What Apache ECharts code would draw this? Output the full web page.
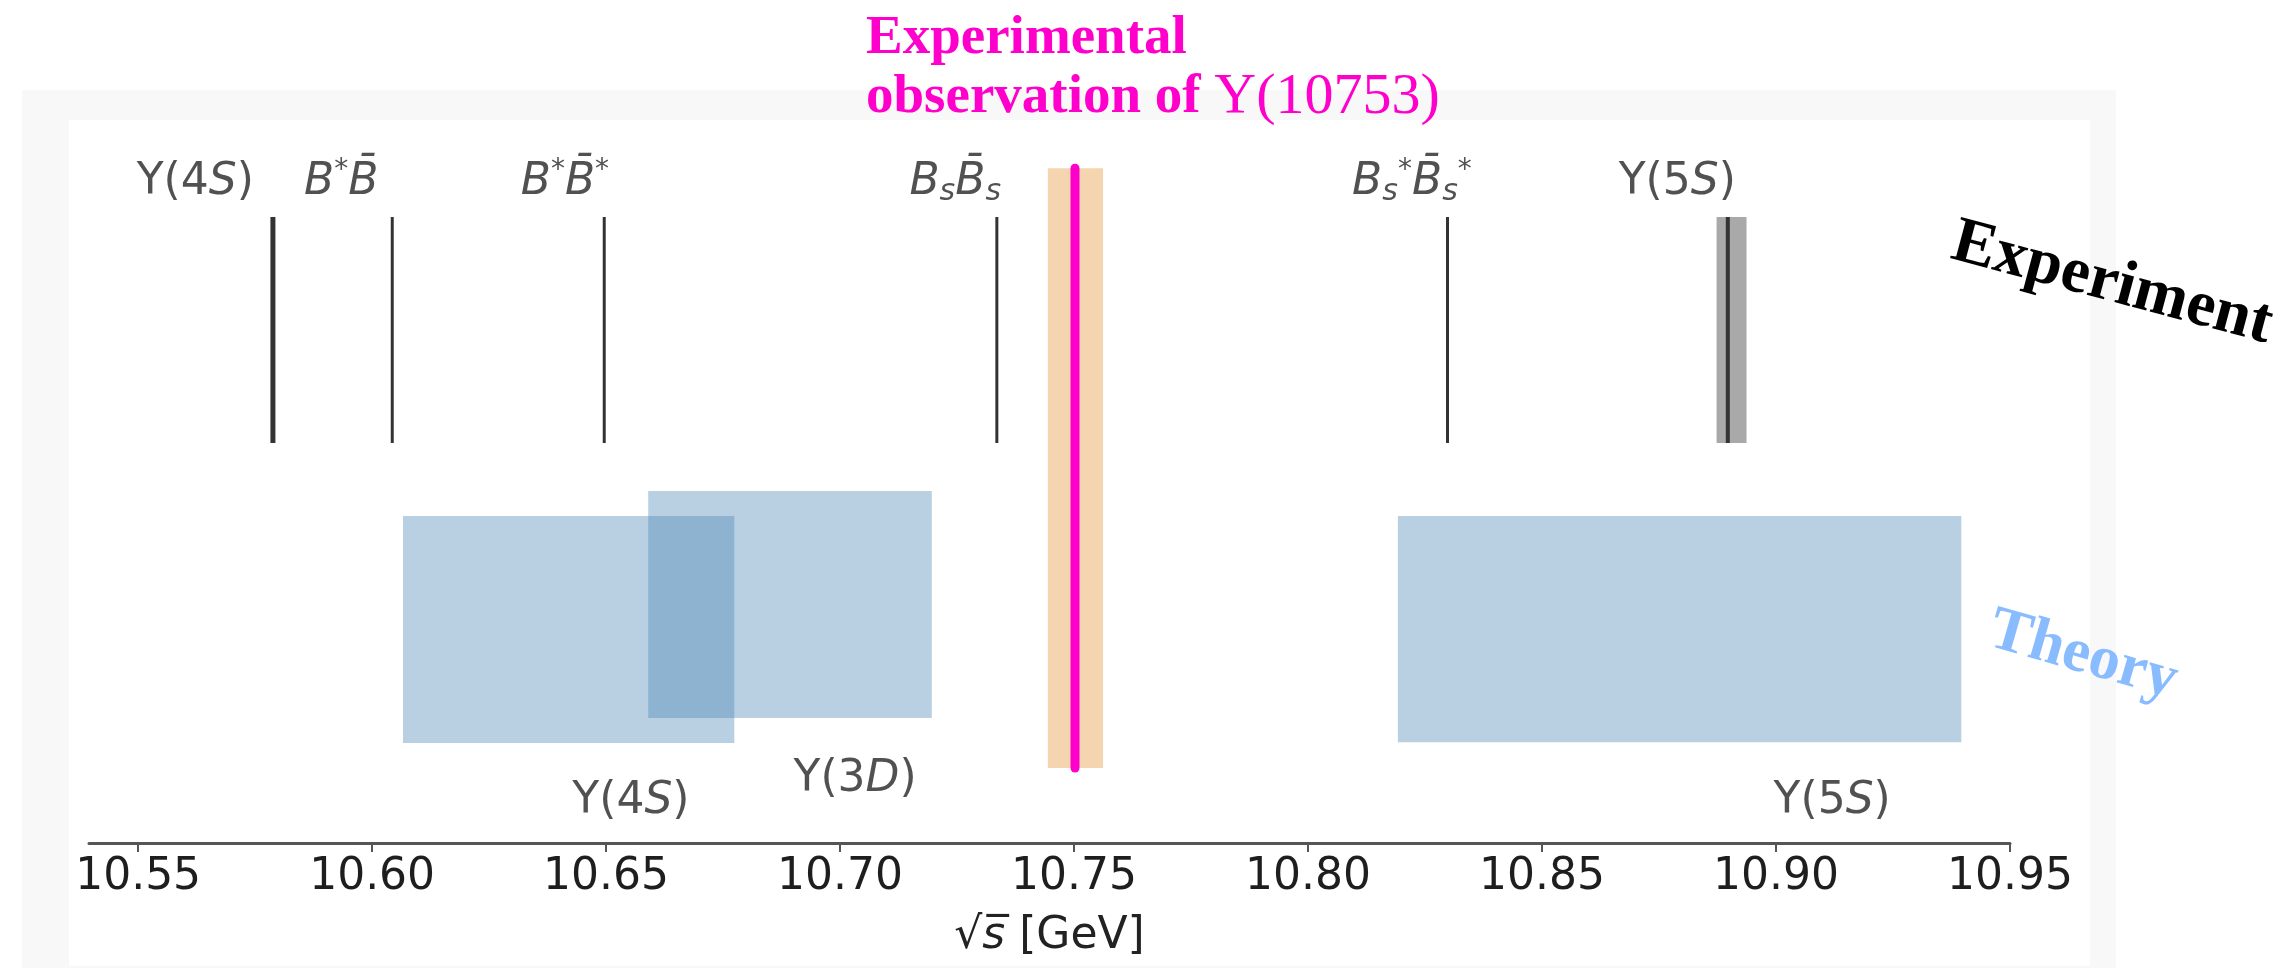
<!DOCTYPE html>
<html>
<head>
<meta charset="utf-8">
<script src="https://cdn.jsdelivr.net/npm/echarts@6/dist/echarts.min.js"></script>
<style>
html,body{margin:0;padding:0;background:#ffffff;}
#chart{width:2286px;height:968px;}
</style>
</head>
<body>
<div id="chart"></div>
<script>
// ---------------- data (GeV) ----------------
const thresholdLabels = [
  '{n|Υ(4}{i|S}{n|)}',
  '{i|B}{sp|*}{i|B̄}',
  '{i|B}{sp|*}{i|B̄}{sp|*}',
  '{i|B}{sb|s}{i|B̄}{sb|s}',
  '{i|B}{sb|s}{sp|*}{i|B̄}{sb|s}{sp|*}',
  '{n|Υ(5}{i|S}{n|)}'
];
const thresholdMass   = [10.5788, 10.6043, 10.6496, 10.7335, 10.8298, 10.8897];
const thresholdLabelX = [10.5622, 10.5934, 10.6412, 10.7246, 10.8222, 10.8789];
const upsilon5SBand   = [10.8873, 10.8937];

const theoryLabels = ['{n|Υ(4}{i|S}{n|)}', '{n|Υ(3}{i|D}{n|)}', '{n|Υ(5}{i|S}{n|)}'];
const theoryLow    = [10.6066, 10.6590, 10.8192];
const theoryHigh   = [10.6774, 10.7196, 10.9396];
const theoryLabelX = [10.6553, 10.7032, 10.9120];

const observedMass = 10.7502;
const observedBand = [10.7444, 10.7562];

const tickValues = [10.55, 10.60, 10.65, 10.70, 10.75, 10.80, 10.85, 10.90, 10.95];
const xRange = [10.5395, 10.95];

// ---------------- vertical layout (fraction of plot height) ----------------
const expRow      = [0.5714, 0.8943];
const theoryRows  = [[0.143, 0.467], [0.1786, 0.503], [0.144, 0.467]];
const bandRow     = [0.107, 0.964];
const topLabelY   = 0.944;
const bottomLabelY = [0.0586, 0.09, 0.0586];

// ---------------- styles ----------------
const labelColor = '#262626';
const labelRich = {
  n:  {fontFamily: 'DejaVu Sans', fontSize: 44, color: labelColor, lineHeight: 50},
  i:  {fontFamily: 'DejaVu Sans', fontSize: 44, fontStyle: 'italic', color: labelColor, lineHeight: 50},
  sp: {fontFamily: 'DejaVu Sans', fontSize: 28, color: labelColor, lineHeight: 44, verticalAlign: 'top'},
  sb: {fontFamily: 'DejaVu Sans', fontSize: 30, fontStyle: 'italic', color: labelColor, lineHeight: 20, verticalAlign: 'bottom'}
};
const lineWidths = [5, 3, 3, 3, 3, 4];

function rectRender(fill) {
  return function (params, api) {
    const a = api.coord([api.value(0), api.value(3)]);
    const b = api.coord([api.value(1), api.value(2)]);
    return {type: 'rect', shape: {x: a[0], y: a[1], width: b[0] - a[0], height: b[1] - a[1]}, style: {fill: fill}};
  };
}

const chart = echarts.init(document.getElementById('chart'), null, {renderer: 'canvas'});

const option = {
  animation: false,
  backgroundColor: '#ffffff',
  grid: {left: 89, right: 276, top: 143, bottom: 125, containLabel: false},
  xAxis: {
    type: 'value',
    min: xRange[0],
    max: xRange[1],
    name: '√{it|s̅} [GeV]',
    nameLocation: 'middle',
    nameGap: 72,
    nameTextStyle: {
      fontFamily: 'DejaVu Sans', fontSize: 44, color: '#222222',
      rich: {it: {fontFamily: 'DejaVu Sans', fontSize: 44, fontStyle: 'italic', color: '#222222'}}
    },
    splitLine: {show: false},
    axisLine: {show: true, lineStyle: {color: '#555555', width: 3}},
    axisTick: {show: true, length: 9, inside: false, lineStyle: {color: '#555555', width: 2}, customValues: tickValues},
    axisLabel: {
      show: true, margin: 13, fontFamily: 'DejaVu Sans', fontSize: 44, color: '#1e1e1e',
      customValues: tickValues,
      formatter: v => v.toFixed(2)
    }
  },
  yAxis: {type: 'value', min: 0, max: 1, show: false},
  graphic: [
    {type: 'rect', z: -2, silent: true, shape: {x: 22, y: 90, width: 2094, height: 878}, style: {fill: '#f8f8f8'}},
    {type: 'rect', z: -1, silent: true, shape: {x: 69, y: 120, width: 2021, height: 846}, style: {fill: '#ffffff'}},
    {type: 'text', z: 10, x: 866, y: 39, style: {
      text: 'Experimental', fontFamily: 'Liberation Serif', fontWeight: 'bold', fontSize: 55,
      fill: '#ff00cc', align: 'left', verticalAlign: 'middle'}},
    {type: 'text', z: 10, x: 866, y: 98, style: {
      text: '{b|observation of }{r|Υ(10753)}',
      align: 'left', verticalAlign: 'middle',
      rich: {
        b: {fontFamily: 'Liberation Serif', fontWeight: 'bold', fontSize: 55, fill: '#ff00cc'},
        r: {fontFamily: 'Liberation Serif', fontWeight: 'normal', fontSize: 58, fill: '#ff00cc'}
      }}},
    {type: 'text', z: 10, x: 2112, y: 284, rotation: -15 * Math.PI / 180, style: {
      text: 'Experiment', fontFamily: 'Liberation Serif', fontWeight: 'bold', fontSize: 65,
      fill: '#000000', align: 'center', verticalAlign: 'middle'}},
    {type: 'text', z: 10, x: 2083, y: 656, rotation: -16 * Math.PI / 180, style: {
      text: 'Theory', fontFamily: 'Liberation Serif', fontWeight: 'bold', fontSize: 62,
      fill: '#89bcff', align: 'center', verticalAlign: 'middle'}}
  ],
  series: [
    {
      name: 'theory', type: 'custom', silent: true, z: 2,
      renderItem: rectRender('rgba(70,130,180,0.375)'),
      encode: {x: [0, 1], y: [2, 3]},
      data: theoryLow.map((lo, k) => [lo, theoryHigh[k], theoryRows[k][0], theoryRows[k][1]])
    },
    {
      name: 'observedBand', type: 'custom', silent: true, z: 3,
      renderItem: rectRender('#f5d5b0'),
      encode: {x: [0, 1], y: [2, 3]},
      data: [[observedBand[0], observedBand[1], bandRow[0], bandRow[1]]]
    },
    {
      name: 'upsilon5SBand', type: 'custom', silent: true, z: 3,
      renderItem: rectRender('#a9a9a9'),
      encode: {x: [0, 1], y: [2, 3]},
      data: [[upsilon5SBand[0], upsilon5SBand[1], expRow[0], expRow[1]]]
    },
    {
      name: 'observed', type: 'custom', silent: true, z: 4,
      renderItem: function (params, api) {
        const a = api.coord([api.value(0), api.value(1)]);
        const b = api.coord([api.value(0), api.value(2)]);
        return {type: 'line', shape: {x1: a[0], y1: a[1], x2: b[0], y2: b[1]},
          style: {stroke: '#ff00cc', lineWidth: 9, lineCap: 'round'}};
      },
      encode: {x: 0, y: [1, 2]},
      data: [[observedMass, bandRow[0], bandRow[1]]]
    },
    {
      name: 'thresholds', type: 'custom', silent: true, z: 4,
      renderItem: function (params, api) {
        const a = api.coord([api.value(0), api.value(1)]);
        const b = api.coord([api.value(0), api.value(2)]);
        return {type: 'line', shape: {x1: a[0], y1: a[1], x2: b[0], y2: b[1]},
          style: {stroke: '#333333', lineWidth: lineWidths[params.dataIndex]}};
      },
      encode: {x: 0, y: [1, 2]},
      data: thresholdMass.map(m => [m, expRow[0], expRow[1]])
    },
    {
      name: 'thresholdLabels', type: 'scatter', silent: true, z: 5,
      symbol: 'circle', symbolSize: 1, itemStyle: {color: 'rgba(0,0,0,0)'},
      label: {show: true, position: 'inside', rich: labelRich, formatter: p => thresholdLabels[p.dataIndex]},
      data: thresholdLabelX.map(x => [x, topLabelY])
    },
    {
      name: 'theoryLabels', type: 'scatter', silent: true, z: 5,
      symbol: 'circle', symbolSize: 1, itemStyle: {color: 'rgba(0,0,0,0)'},
      label: {show: true, position: 'inside', rich: labelRich, formatter: p => theoryLabels[p.dataIndex]},
      data: theoryLabelX.map((x, k) => [x, bottomLabelY[k]])
    }
  ]
};
chart.setOption(option);
</script>
</body>
</html>
